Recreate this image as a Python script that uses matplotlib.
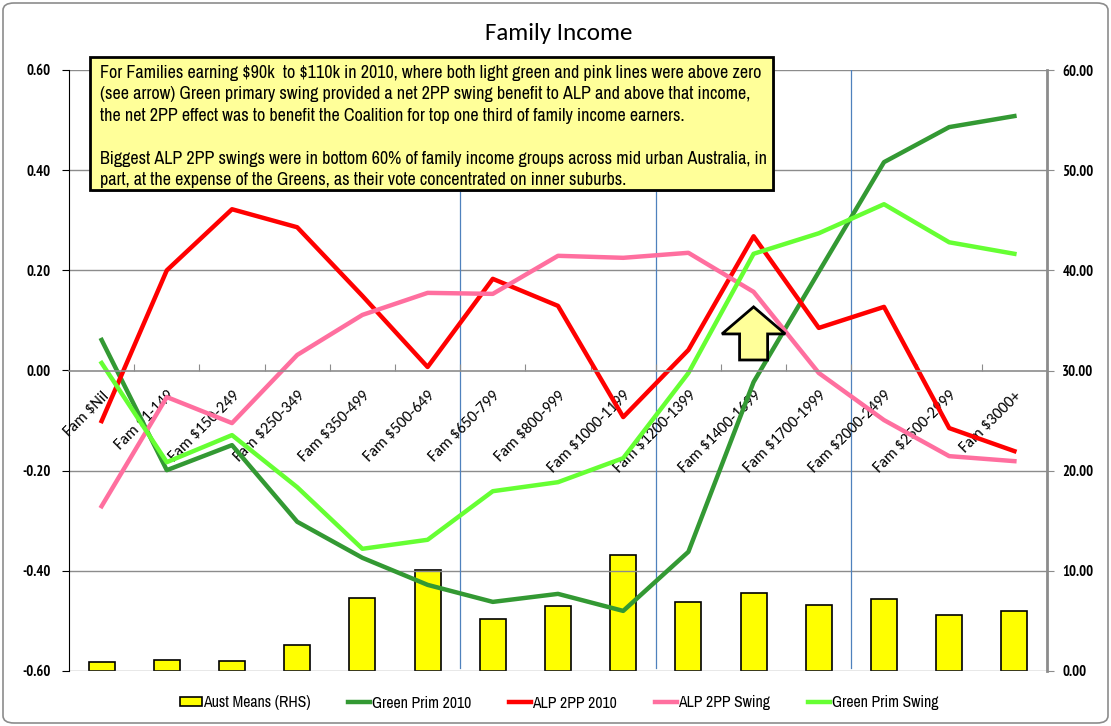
import matplotlib
matplotlib.use('Agg')
import matplotlib.pyplot as plt
import numpy as np
from matplotlib.patches import FancyBboxPatch, Rectangle, FancyArrow

narrow = ['Archivo Narrow', 'PT Sans Narrow', 'DejaVu Sans']
narrow_bold = ['PT Sans Narrow', 'DejaVu Sans']
calibri = ['Carlito', 'Lato', 'DejaVu Sans']

categories = ['Fam $Nil', 'Fam $1-149', 'Fam $150-249', 'Fam $250-349', 'Fam $350-499',
              'Fam $500-649', 'Fam $650-799', 'Fam $800-999', 'Fam $1000-1199',
              'Fam $1200-1399', 'Fam $1400-1699', 'Fam $1700-1999', 'Fam $2000-2499',
              'Fam $2500-2999', 'Fam $3000+']
aust_means = [0.9, 1.1, 1.0, 2.6, 7.25, 10.1, 5.15, 6.5, 11.55, 6.85, 7.75, 6.6, 7.15, 5.6, 6.0]
green_prim_2010 = [0.061, -0.199, -0.149, -0.302, -0.374, -0.428, -0.462, -0.446, -0.480,
                   -0.362, -0.023, 0.197, 0.416, 0.486, 0.508]
alp_2pp_2010 = [-0.101, 0.200, 0.322, 0.286, 0.149, 0.007, 0.183, 0.129, -0.093, 0.041,
                0.268, 0.085, 0.127, -0.115, -0.161]
alp_2pp_swing = [-0.271, -0.053, -0.105, 0.031, 0.111, 0.155, 0.153, 0.229, 0.225, 0.235,
                 0.157, -0.005, -0.099, -0.171, -0.181]
green_prim_swing = [0.015, -0.183, -0.129, -0.233, -0.356, -0.338, -0.241, -0.223, -0.175,
                    -0.005, 0.233, 0.274, 0.332, 0.256, 0.233]
marker_lines = [5.5, 8.5, 11.5]

note = ("For Families earning \\$90k  to \\$110k in 2010, where both light green and pink lines were above zero\n"
        "(see arrow) Green primary swing provided a net 2PP swing benefit to ALP and above that income,\n"
        "the net 2PP effect was to benefit the Coalition for top one third of family income earners.\n\n"
        "Biggest ALP 2PP swings were in bottom 60% of family income groups across mid urban Australia, in\n"
        "part, at the expense of the Greens, as their vote concentrated on inner suburbs.")

fig = plt.figure(figsize=(11.11, 7.26), dpi=100)
ax = fig.add_axes([69/1111, 1-671/726, 978/1111, 601/726])
ax2 = ax.twinx()
ax.set_zorder(ax2.get_zorder() + 1)
ax.patch.set_visible(False)

x = np.arange(len(categories))

bars = ax2.bar(x, aust_means, width=0.4, color='#FFFF00', edgecolor='black', linewidth=1.2,
               label='Aust Means (RHS)')
ax2.set_ylim(0, 60)
ax2.set_yticks(np.arange(0, 61, 10))
ax2.set_yticklabels(['%.2f' % v for v in np.arange(0, 61, 10)], fontfamily=narrow_bold,
                    fontweight='bold', fontsize=10.5)

l1, = ax.plot(x, green_prim_2010, color='#339933', lw=3.2, label='Green Prim 2010')
l2, = ax.plot(x, alp_2pp_2010, color='#FF0000', lw=3.2, label='ALP 2PP 2010')
l3, = ax.plot(x, alp_2pp_swing, color='#FF6F9F', lw=3.2, label='ALP 2PP Swing')
l4, = ax.plot(x, green_prim_swing, color='#66FF33', lw=3.2, label='Green Prim Swing')

for xv in marker_lines:
    ax.axvline(xv, ymin=0.005, ymax=1, color='#4F81BD', lw=0.9, zorder=1)

ax.set_xlim(-0.5, len(categories) - 0.5)
ax.set_ylim(-0.6, 0.6)
ax.set_yticks(np.arange(-0.6, 0.61, 0.2))
ax.set_yticklabels(['%.2f' % v for v in np.arange(-0.6, 0.61, 0.2)], fontfamily=narrow_bold,
                   fontweight='bold', fontsize=10.5)
for yv in [-0.6, -0.4, -0.2, 0.2, 0.4, 0.6]:
    ax.axhline(yv, color='#8C8C8C', lw=1.0, zorder=0)

ax.spines['bottom'].set_position(('data', 0))
ax.spines['bottom'].set_color('#8C8C8C')
ax.spines['bottom'].set_linewidth(1.2)
ax.spines['top'].set_visible(False)
ax.spines['right'].set_visible(False)
ax.spines['left'].set_color('black')
ax2.spines['top'].set_visible(False)
ax2.spines['left'].set_visible(False)
ax2.spines['bottom'].set_visible(False)
ax2.spines['right'].set_color('#8C8C8C')
ax2.spines['right'].set_linewidth(2)
ax2.tick_params(axis='y', direction='out', length=5, color='#8C8C8C', pad=6)
ax.tick_params(axis='y', direction='out', length=5, pad=8)

ax.set_xticks(np.arange(len(categories) + 1) - 0.5)
ax.set_xticklabels([])
ax.tick_params(axis='x', which='major', direction='in', length=5, color='#8C8C8C')
ax.set_xticks(x, categories, minor=True)
ax.tick_params(axis='x', which='minor', length=0, pad=13)
for lab in ax.get_xticklabels(minor=True):
    lab.set_rotation(45)
    lab.set_ha('right')
    lab.set_va('top')
    lab.set_rotation_mode('anchor')
    lab.set_fontsize(11.5)
    lab.set_fontfamily(calibri)

# arrow pointing at the crossover
ax.add_patch(FancyArrow(10, 0.021, 0, 0.106, width=0.43, head_width=0.97, head_length=0.054,
                        length_includes_head=True, facecolor='#FFFF99', edgecolor='black',
                        lw=2, zorder=6))

fig.text(0.503, 1 - 33/726, 'Family Income', ha='center', va='center', fontsize=18,
         fontfamily=calibri)

# note box
fig.patches.append(Rectangle((92/1111, 1 - 192/726), 683/1111, 133/726, transform=fig.transFigure,
                             facecolor='#9A9A9A', edgecolor='none', zorder=9))
fig.patches.append(Rectangle((90/1111, 1 - 190/726), 683/1111, 133/726, transform=fig.transFigure,
                             facecolor='#FFFF99', edgecolor='black', lw=2, zorder=10))
fig.text(100/1111, 1 - 65/726, note, ha='left', va='top', fontsize=13, fontfamily=narrow,
         linespacing=1.42, zorder=11)

fig.legend(handles=[bars, l1, l2, l3, l4], loc='center', bbox_to_anchor=(0.503, 1 - 703/726),
           ncol=5, frameon=False, prop={'family': narrow, 'size': 11.3}, handlelength=1.4,
           handleheight=0.5, handletextpad=0.1, columnspacing=2.4)

fig.patches.append(FancyBboxPatch((3/1111, 3/726), 1105/1111, 720/726, boxstyle='round,pad=0,rounding_size=0.01',
                                  transform=fig.transFigure, facecolor='none', edgecolor='#8C8C8C', lw=1.2))

fig.savefig('out.png', dpi=100)
